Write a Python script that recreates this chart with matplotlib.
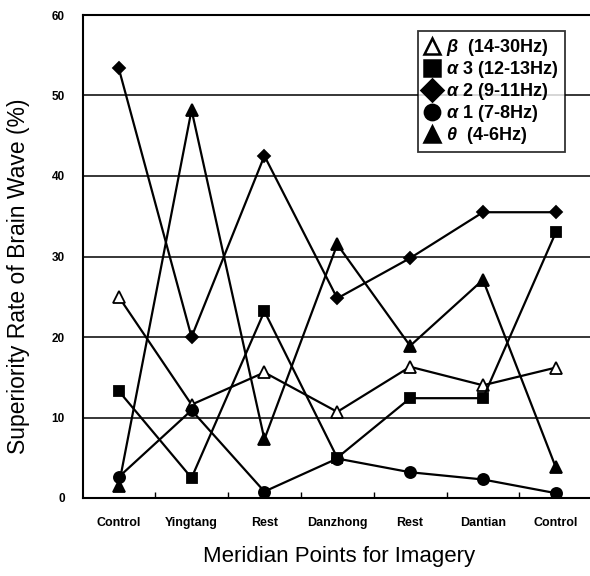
import matplotlib
matplotlib.use('Agg')
import matplotlib.pyplot as plt
from matplotlib.lines import Line2D

# data
points = ['Control', 'Yingtang', 'Rest', 'Danzhong', 'Rest', 'Dantian', 'Control']
beta = [25.0, 11.6, 15.6, 10.7, 16.3, 14.0, 16.2]
alpha3 = [13.3, 2.5, 23.2, 5.0, 12.4, 12.4, 33.0]
alpha2 = [53.4, 20.0, 42.5, 24.8, 29.8, 35.5, 35.5]
alpha1 = [2.6, 10.9, 0.8, 4.9, 3.2, 2.3, 0.6]
theta = [1.5, 48.2, 7.3, 31.5, 18.9, 27.1, 3.8]

series = [
    (beta, '^', 'white', r'$\beta$  (14-30Hz)'),
    (alpha3, 's', 'black', r'$\alpha$ 3 (12-13Hz)'),
    (alpha2, 'D', 'black', r'$\alpha$ 2 (9-11Hz)'),
    (alpha1, 'o', 'black', r'$\alpha$ 1 (7-8Hz)'),
    (theta, '^', 'black', r'$\theta$  (4-6Hz)'),
]
msizes = {'^': 8, 's': 6.5, 'D': 6.5, 'o': 8}

plt.rcParams['font.family'] = ['Liberation Sans', 'DejaVu Sans']
plt.rcParams['mathtext.fontset'] = 'custom'
plt.rcParams['mathtext.it'] = 'Liberation Sans:italic:bold'
plt.rcParams['mathtext.rm'] = 'Liberation Sans:bold'

fig = plt.figure(figsize=(5.9, 5.76), dpi=100)
ax = fig.add_axes([83 / 590, 1 - 498 / 576, 1 - 83 / 590 + 0.01, (498 - 15) / 576])

x = list(range(len(points)))
for vals, m, fc, lab in series:
    ax.plot(x, vals, color='black', lw=1.6, marker=m, markersize=msizes[m],
            markerfacecolor=fc, markeredgecolor='black', markeredgewidth=1.3,
            zorder=3)

ax.set_xlim(-0.49, 6.55)
ax.set_ylim(0, 60)
ax.set_yticks(range(0, 61, 10))
ax.set_yticklabels([str(v) for v in range(0, 61, 10)], fontsize=8.5, fontweight='bold')
ax.yaxis.grid(True, color='black', lw=1.1)
ax.set_axisbelow(True)
ax.tick_params(axis='y', length=0, pad=13)

ax.set_xticks(x)
ax.set_xticklabels(points, fontsize=9, fontweight='bold')
ax.set_xticks([i + 0.5 for i in range(6)], minor=True)
ax.tick_params(axis='x', which='major', length=0, pad=14)
ax.tick_params(axis='x', which='minor', direction='in', length=4, width=1)

for s in ['left', 'bottom', 'top']:
    ax.spines[s].set_linewidth(1.5)
ax.spines['right'].set_visible(False)

ax.set_xlabel('Meridian Points for Imagery', fontsize=16, labelpad=12)
ax.set_ylabel('Superiority Rate of Brain Wave (%)', fontsize=16.5)
ax.yaxis.set_label_coords(-0.103, 0.46)

handles = [Line2D([], [], linestyle='none', marker=m, markersize=11,
                  markerfacecolor=fc, markeredgecolor='black', markeredgewidth=1.8)
           for vals, m, fc, lab in series]
labels = [lab for vals, m, fc, lab in series]
leg = ax.legend(handles, labels, loc='upper left', borderaxespad=0,
                frameon=True, fancybox=False,
                edgecolor='black', handlelength=0.8, handletextpad=0.4,
                labelspacing=0.05, borderpad=0.35,
                prop={'family': 'Liberation Sans', 'weight': 'bold', 'size': 13})
leg.set_bbox_to_anchor((418 / 590, 1 - 31 / 576), transform=fig.transFigure)
leg.get_frame().set_linewidth(1.3)

fig.savefig('out.png', dpi=100)
